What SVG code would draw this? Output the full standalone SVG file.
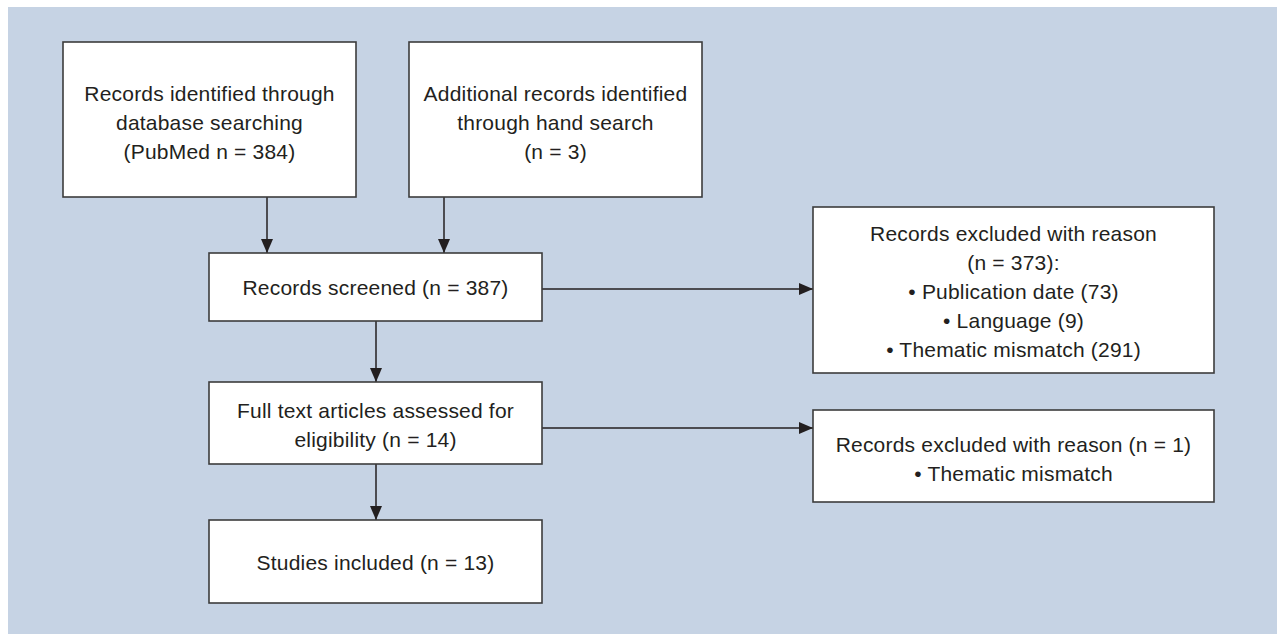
<svg xmlns="http://www.w3.org/2000/svg" width="1277" height="635" viewBox="0 0 1277 635">
<defs>
<style>
.box{fill:#ffffff;stroke:#3c3c3c;stroke-width:1.6}
.t{font-family:"Liberation Sans",Arial,sans-serif;font-size:21px;fill:#231f20;text-anchor:middle;letter-spacing:0.2px}
.c{stroke:#231f20;stroke-width:1.5;fill:none;marker-end:url(#ah)}
</style>
<marker id="ah" viewBox="0 0 14 12" refX="14" refY="6" markerWidth="14" markerHeight="12" markerUnits="userSpaceOnUse" orient="auto">
<path d="M0,0 L14,6 L0,12 Z" fill="#231f20"/>
</marker>
</defs>
<rect x="0" y="0" width="1277" height="635" fill="#ffffff"/>
<rect x="8" y="7" width="1269" height="627" fill="#c6d3e4"/>
<g id="connectors">
<line class="c" x1="267" y1="197" x2="267" y2="253"/>
<line class="c" x1="444" y1="197" x2="444" y2="253"/>
<line class="c" x1="542" y1="289" x2="813" y2="289"/>
<line class="c" x1="376" y1="321" x2="376" y2="382"/>
<line class="c" x1="542" y1="428" x2="813" y2="428"/>
<line class="c" x1="376" y1="464" x2="376" y2="520"/>
</g>
<g id="n1">
<rect class="box" x="63" y="42" width="293" height="155"/>
<text class="t" x="209.5" y="101">Records identified through</text>
<text class="t" x="209.5" y="130">database searching</text>
<text class="t" x="209.5" y="159">(PubMed n = 384)</text>
</g>
<g id="n2">
<rect class="box" x="409" y="42" width="293" height="155"/>
<text class="t" x="555.5" y="101">Additional records identified</text>
<text class="t" x="555.5" y="130">through hand search</text>
<text class="t" x="555.5" y="159">(n = 3)</text>
</g>
<g id="n3">
<rect class="box" x="209" y="253" width="333" height="68"/>
<text class="t" x="375.5" y="295">Records screened (n = 387)</text>
</g>
<g id="n4">
<rect class="box" x="813" y="207" width="401" height="166"/>
<text class="t" x="1013.5" y="241">Records excluded with reason</text>
<text class="t" x="1013.5" y="270">(n = 373):</text>
<text class="t" x="1013.5" y="299">• Publication date (73)</text>
<text class="t" x="1013.5" y="328">• Language (9)</text>
<text class="t" x="1013.5" y="357">• Thematic mismatch (291)</text>
</g>
<g id="n5">
<rect class="box" x="209" y="382" width="333" height="82"/>
<text class="t" x="375.5" y="418">Full text articles assessed for</text>
<text class="t" x="375.5" y="447">eligibility (n = 14)</text>
</g>
<g id="n6">
<rect class="box" x="813" y="410" width="401" height="92"/>
<text class="t" x="1013.5" y="452">Records excluded with reason (n = 1)</text>
<text class="t" x="1013.5" y="481">• Thematic mismatch</text>
</g>
<g id="n7">
<rect class="box" x="209" y="520" width="333" height="83"/>
<text class="t" x="375.5" y="570">Studies included (n = 13)</text>
</g>
</svg>
